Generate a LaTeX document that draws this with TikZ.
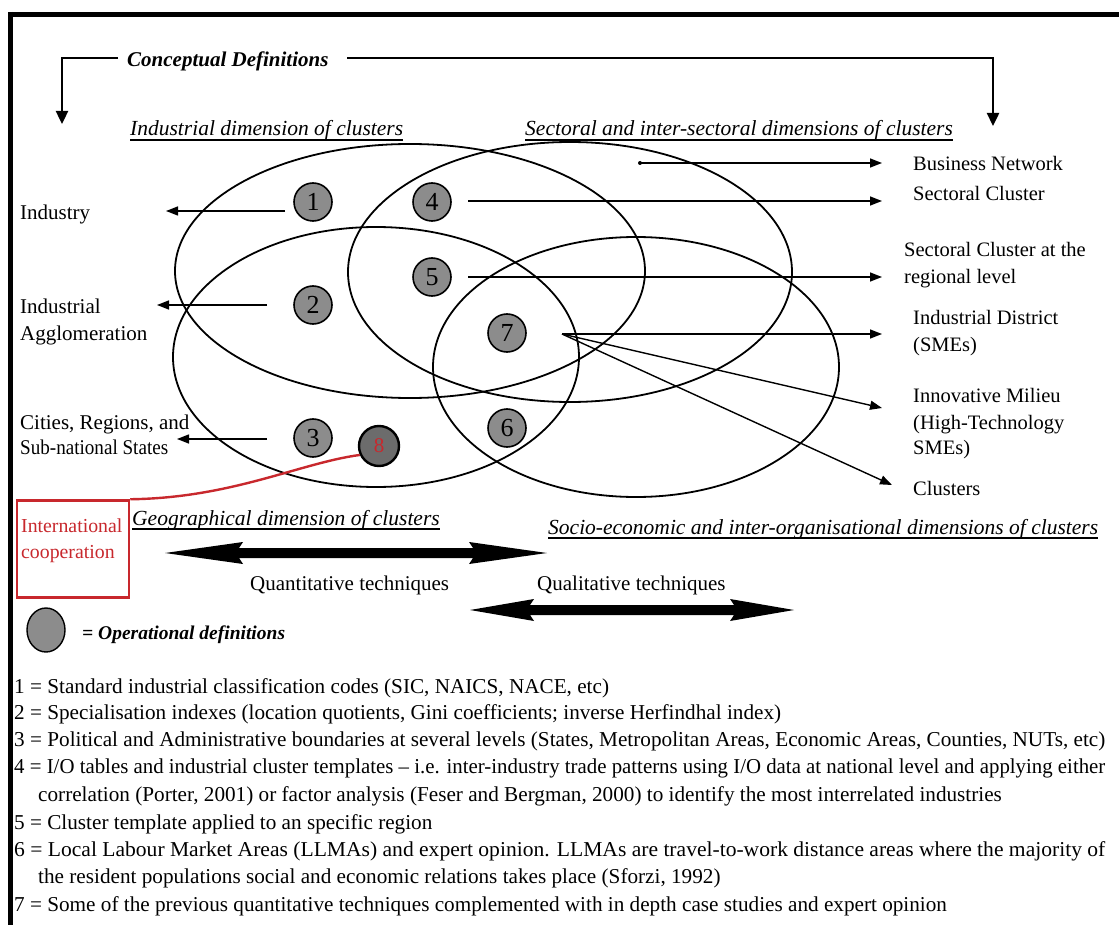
\documentclass[tikz,border=0pt]{standalone}
\usepackage{fontspec}
\setmainfont{Liberation Serif}
\usetikzlibrary{arrows.meta,calc,shapes.geometric}
\definecolor{dotgrey}{RGB}{140,140,140}
\definecolor{darkdot}{RGB}{108,108,108}
\definecolor{linkred}{RGB}{200,40,45}
% filled double-headed arrow: x-left, x-right, y, head length
\newcommand{\fatarrow}[4]{%
  \fill (#1,#3) -- (#1+#4,#3-11) -- (#1+#4-4,#3-5) -- (#2-#4+4,#3-5) -- (#2-#4,#3-11)
    -- (#2,#3) -- (#2-#4,#3+11) -- (#2-#4+4,#3+5) -- (#1+#4-4,#3+5) -- (#1+#4,#3+11) -- cycle;}
% a footnote line stretched to a given width
\newcommand{\fullline}[1]{\resizebox{1091pt}{\height}{#1}}
\begin{document}
\begin{tikzpicture}[x=1pt,y=-1pt,
  txt/.style={inner sep=0pt,anchor=base west,font=\fontsize{20.5}{24}\selectfont},
  ttxt/.style={inner sep=0pt,anchor=base west,font=\fontsize{21}{24}\selectfont},
  ltxt/.style={inner sep=0pt,anchor=base west,font=\fontsize{21}{24}\selectfont},
  head/.style={inner sep=0pt,anchor=base west,font=\fontsize{21.5}{26}\selectfont\itshape},
  bhead/.style={inner sep=0pt,anchor=base west,font=\fontsize{21}{26}\selectfont\bfseries\itshape},
  foot/.style={inner sep=0pt,anchor=base west,font=\fontsize{21.2}{24}\selectfont},
  redtxt/.style={inner sep=0pt,anchor=base west,text=linkred,font=\fontsize{19.8}{22}\selectfont},
  num/.style={circle,draw,line width=1.6pt,fill=dotgrey,minimum size=38pt,inner sep=0pt,
    font=\fontsize{26}{26}\selectfont},
  ring/.style={line width=1.8pt},
  thin/.style={line width=1.4pt,-{Triangle[length=12pt,width=9pt]}},
  bracket/.style={line width=2.4pt,-{Triangle[length=13pt,width=12pt]}},
  uline/.style={line width=1.2pt},
]
\useasboundingbox (0,0) rectangle (1119,925);
\fill[white] (0,0) rectangle (1119,925);

% outer frame (top and left)
\draw[line width=5pt] (8,14.5) -- (1119,14.5);
\draw[line width=5pt] (10.5,12) -- (10.5,925);

% conceptual definitions bracket
\node[bhead] (cd) at (127,67) {Conceptual Definitions};
\coordinate (cdL) at (118,58);
\coordinate (cdLc) at (62,58);
\coordinate (cdLe) at (62,124);
\coordinate (cdR) at (347,58);
\coordinate (cdRc) at (993,58);
\coordinate (cdRe) at (993,126);
\draw[bracket] (cdL) -- (cdLc) -- (cdLe);
\draw[bracket] (cdR) -- (cdRc) -- (cdRe);

% dimension headings
\node[head] (hInd) at (130,136) {Industrial dimension of clusters};
\node[head] (hSec) at (525,136) {Sectoral and inter-sectoral dimensions of clusters};
\node[head] (hGeo) at (132,525) {Geographical dimension of clusters};
\node[head] (hSoc) at (548,534) {Socio-economic and inter-organisational dimensions of clusters};
\foreach \h in {hInd,hSec,hGeo,hSoc}
  \draw[uline] ([yshift=-4pt]\h.base west) -- ([yshift=-4pt]\h.base east);

% the four dimension ellipses
\draw[ring] (410,271) ellipse [x radius=235pt, y radius=127pt];
\draw[ring] (570,272) ellipse [x radius=222pt, y radius=130pt];
\draw[ring] (376,357) ellipse [x radius=203pt, y radius=130pt];
\draw[ring] (636,367) ellipse [x radius=203pt, y radius=130pt];

% operational definitions
\node[num] (n1) at (313,202) {1};
\node[num] (n2) at (313,305) {2};
\node[num] (n3) at (313,438) {3};
\node[num] (n4) at (432,202) {4};
\node[num] (n5) at (432,277) {5};
\node[num] (n7) at (507,333) {7};
\node[num] (n6) at (507,428) {6};
\node[num,fill=darkdot,line width=2.4pt,minimum size=40pt,text=linkred,font=\fontsize{21}{21}\selectfont] (n8) at (379,446) {8};

% left-hand conceptual labels
\node[ltxt] (lInd) at (20,220) {Industry};
\node[ltxt] (lAgg1) at (20,314) {Industrial};
\node[ltxt] (lAgg2) at (20,341) {Agglomeration};
\node[ltxt] (lCit1) at (20,429) {Cities, Regions, and};
\node[ltxt] (lCit2) at (20,454) {\resizebox{148pt}{\height}{Sub-national States}};

\coordinate (a1s) at (285,211); \coordinate (a1e) at (166,211);
\coordinate (a2s) at (267,305); \coordinate (a2e) at (157,305);
\coordinate (a3s) at (267,439); \coordinate (a3e) at (177,439);
\draw[thin] (a1s) -- (a1e);
\draw[thin] (a2s) -- (a2e);
\draw[thin] (a3s) -- (a3e);

% right-hand conceptual labels
\node[txt] (rBN) at (913,171) {Business Network};
\node[txt] (rSC) at (913,201) {Sectoral Cluster};
\node[txt] (rSR1) at (904,257) {Sectoral Cluster at the};
\node[txt] (rSR2) at (904,284) {regional level};
\node[txt] (rID1) at (913,324) {Industrial District};
\node[txt] (rID2) at (913,351) {(SMEs)};
\node[txt] (rIM1) at (913,402) {Innovative Milieu};
\node[txt] (rIM2) at (913,429) {(High-Technology};
\node[txt] (rIM3) at (913,454) {SMEs)};
\node[txt] (rCl) at (913,495) {Clusters};

\coordinate (bnS) at (640,163); \coordinate (bnE) at (882,163);
\coordinate (scS) at (468,201); \coordinate (scE) at (882,201);
\coordinate (srS) at (468,277); \coordinate (srE) at (882,277);
\coordinate (sv)  at (562,334);
\coordinate (idE) at (882,334);
\coordinate (imE) at (882,408);
\coordinate (clE) at (892,485);
\fill (bnS) circle [radius=2pt];
\draw[thin] (bnS) -- (bnE);
\draw[thin] (scS) -- (scE);
\draw[thin] (srS) -- (srE);
\draw[thin] (sv) -- (idE);
\draw[thin] (sv) -- (imE);
\draw[thin] (sv) -- (clE);

% international cooperation box
\node[draw=linkred,line width=2.5pt,minimum width=112pt,minimum height=97pt,inner sep=0pt] (ic) at (73,549) {};
\node[redtxt] (ic1) at (21,532) {International};
\node[redtxt] (ic2) at (21,558) {cooperation};
\draw[linkred,line width=2.4pt] (n8.205) .. controls (300,463) and (232,498) .. (ic.north east);

% techniques
\fatarrow{165}{547}{553}{78}
\fatarrow{470}{794}{610}{64}
\node[ttxt] (tQn) at (250,590) {Quantitative techniques};
\node[ttxt] (tQl) at (537,590) {Qualitative techniques};

% legend
\node[draw,line width=1.4pt,fill=dotgrey,ellipse,minimum width=38pt,minimum height=44pt,inner sep=0pt] (leg) at (46,630) {};
\node[bhead,font=\fontsize{19.5}{24}\selectfont\bfseries\itshape] (legt) at (82,639) {= Operational definitions};

% footnotes
\node[foot] (f1) at (14,693) {1 = Standard industrial classification codes (SIC, NAICS, NACE, etc)};
\node[foot] (f2) at (14,719) {2 = Specialisation indexes (location quotients, Gini coefficients; inverse Herfindhal index)};
\node[foot] (f3) at (14,746) {\fullline{3 = Political and Administrative boundaries at several levels (States, Metropolitan Areas, Economic Areas, Counties, NUTs, etc)}};
\node[foot] (f4) at (14,773) {\fullline{4 = I/O tables and industrial cluster templates -- i.e. inter-industry trade patterns using I/O data at national level and applying either}};
\node[foot] (f4b) at (38,801) {correlation (Porter, 2001) or factor analysis (Feser and Bergman, 2000) to identify the most interrelated industries};
\node[foot] (f5) at (14,829) {5 = Cluster template applied to an specific region};
\node[foot] (f6) at (14,856) {\fullline{6 = Local Labour Market Areas (LLMAs) and expert opinion. LLMAs are travel-to-work distance areas where the majority of}};
\node[foot] (f6b) at (38,883) {the resident populations social and economic relations takes place (Sforzi, 1992)};
\node[foot] (f7) at (14,911) {7 = Some of the previous quantitative techniques complemented with in depth case studies and expert opinion};
\end{tikzpicture}
\end{document}
